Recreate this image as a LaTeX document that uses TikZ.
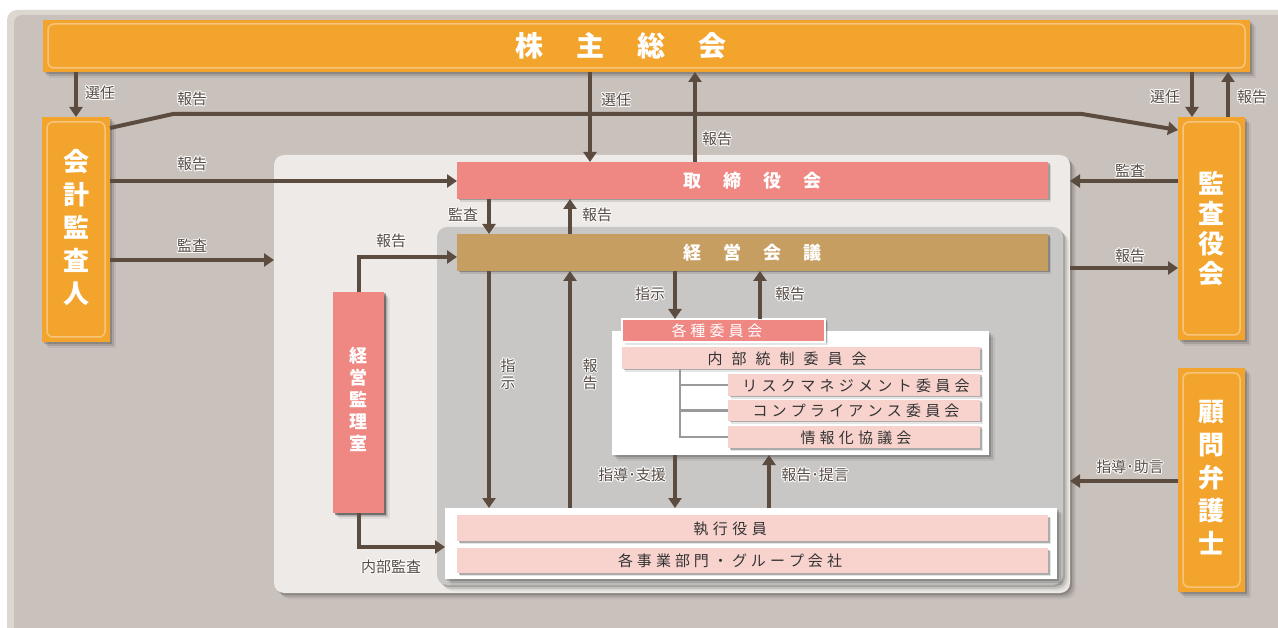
\documentclass[tikz,border=0pt]{standalone}
\usepackage{fontspec}
\setmainfont{Noto Sans CJK JP}
\usetikzlibrary{arrows.meta,shadows}
\definecolor{bgout}{HTML}{DDD7D2}
\definecolor{bgin}{HTML}{C9C1BB}
\definecolor{orng}{HTML}{F3A42D}
\definecolor{orngl}{HTML}{F8C57C}
\definecolor{lightp}{HTML}{EDEAE7}
\definecolor{grayp}{HTML}{C8C7C5}
\definecolor{salmon}{HTML}{EF8783}
\definecolor{tanc}{HTML}{C79E62}
\definecolor{pinkl}{HTML}{F8D3CE}
\definecolor{arrowc}{HTML}{5C4B3F}
\definecolor{lblc}{HTML}{574C45}
\definecolor{txtd}{HTML}{333333}
\definecolor{treec}{HTML}{9A9A9A}
\makeatletter
\newcommand\gapped[2]{\def\gp@gap{#1}\def\gp@first{1}\@tfor\gp@c:=#2\do{\ifnum\gp@first=1 \def\gp@first{0}\else\hspace{\gp@gap}\fi\gp@c}}
\makeatother
\newcommand\hl[1]{{\setbox0\hbox{#1}%
\rlap{\color{white}\kern1pt\copy0}%
\rlap{\color{white}\kern-1pt\copy0}%
\rlap{\color{white}\raise1pt\copy0}%
\rlap{\color{white}\lower1pt\copy0}%
\rlap{\color{white}\kern.7pt\raise.7pt\copy0}%
\rlap{\color{white}\kern-.7pt\raise.7pt\copy0}%
\rlap{\color{white}\kern.7pt\lower.7pt\copy0}%
\rlap{\color{white}\kern-.7pt\lower.7pt\copy0}%
\box0}}
\tikzset{
  softshadow/.style={drop shadow={shadow xshift=2pt,shadow yshift=-2pt,opacity=.16,fill=black},
                     drop shadow={shadow xshift=4pt,shadow yshift=-4pt,opacity=.11,fill=black},
                     drop shadow={shadow xshift=6pt,shadow yshift=-6pt,opacity=.06,fill=black}},
  smallshadow/.style={drop shadow={shadow xshift=1.5pt,shadow yshift=-1.5pt,opacity=.25,fill=black},
                      drop shadow={shadow xshift=3pt,shadow yshift=-3pt,opacity=.1,fill=black}},
  orbox/.style={fill=orng, inner sep=0pt, outer sep=0pt, softshadow, text=white, align=center},
  orin/.style={draw=orngl, line width=1.5pt, rounded corners=6pt},
  bar/.style={inner sep=0pt, outer sep=0pt, smallshadow},
  arr/.style={draw=arrowc, line width=4pt, -{Triangle[length=10pt,width=13pt]}},
  tree/.style={draw=treec, line width=2.5pt},
  lbl/.style={text=lblc, font=\fontsize{15}{17}\selectfont, inner sep=0pt},
  vlbl/.style={text=lblc, font=\fontsize{15}{17}\selectfont, inner sep=0pt, align=center},
  cmt/.style={text=txtd, font=\fontsize{15}{17}\selectfont, inner sep=0pt},
  htitle/.style={text=white, font=\bfseries\fontsize{18}{20}\selectfont, inner sep=0pt},
}
\begin{document}
\begin{tikzpicture}[x=1pt,y=-1pt]
\useasboundingbox (0,0) rectangle (1278,628);
\fill[white] (0,0) rectangle (1278,628);
\fill[bgout, rounded corners=10pt] (7,10) rectangle (1300,650);
\fill[bgin, rounded corners=8pt] (14,15) rectangle (1300,650);

% panels
\node[fill=lightp, rounded corners=10pt, minimum width=796pt, minimum height=438pt, inner sep=0pt, outer sep=0pt, softshadow] (lp) at (672,374) {};
\node[fill=grayp, rounded corners=10pt, minimum width=626pt, minimum height=358pt, inner sep=0pt, outer sep=0pt, softshadow] (gp) at (750,406) {};

% shareholders meeting
\node[orbox, minimum width=1207pt, minimum height=52pt] (kabu) at (646.5,46) {};
\draw[orin] ([xshift=5pt,yshift=-4pt]kabu.north west) rectangle ([xshift=-5pt,yshift=4pt]kabu.south east);
\node[text=white, font=\bfseries\fontsize{28}{30}\selectfont, inner sep=0pt] (kabut) at (621,46) {\gapped{33pt}{株主総会}};

% accounting auditor
\node[orbox, minimum width=68pt, minimum height=225pt] (kk) at (76,229.5) {};
\draw[orin] ([xshift=5pt,yshift=-5pt]kk.north west) rectangle ([xshift=-5pt,yshift=5pt]kk.south east);
\node[text=white, font=\bfseries\fontsize{26}{33}\selectfont, align=center, inner sep=0pt] (kkt) at (76,228) {会\\計\\監\\査\\人};

% audit board
\node[orbox, minimum width=67pt, minimum height=223pt] (kansa) at (1211.5,228.5) {};
\draw[orin] ([xshift=5pt,yshift=-5pt]kansa.north west) rectangle ([xshift=-5pt,yshift=5pt]kansa.south east);
\node[text=white, font=\bfseries\fontsize{26}{30}\selectfont, align=center, inner sep=0pt] (kansat) at (1211.5,229) {監\\査\\役\\会};

% legal advisor
\node[orbox, minimum width=67pt, minimum height=224pt] (komon) at (1211.5,480) {};
\draw[orin] ([xshift=5pt,yshift=-5pt]komon.north west) rectangle ([xshift=-5pt,yshift=5pt]komon.south east);
\node[text=white, font=\bfseries\fontsize{26}{33}\selectfont, align=center, inner sep=0pt] (komont) at (1211.5,478) {顧\\問\\弁\\護\\士};

% board of directors / management meeting
\node[bar, fill=salmon, minimum width=591pt, minimum height=37pt] (tori) at (752.5,180.5) {};
\node[htitle] (torit) at (752.5,181) {\gapped{22pt}{取締役会}};
\node[bar, fill=tanc, minimum width=591pt, minimum height=37pt] (keiei) at (752.5,252.5) {};
\node[htitle] (keieit) at (752.5,253) {\gapped{22pt}{経営会議}};

% management audit office
\node[bar, fill=salmon, minimum width=51pt, minimum height=221pt, softshadow] (kanri) at (358.5,402.5) {};
\node[text=white, font=\bfseries\fontsize{18}{22}\selectfont, align=center, inner sep=0pt] (kanrit) at (358.5,399) {経\\営\\監\\理\\室};

% committees
\node[fill=white, minimum width=377pt, minimum height=124pt, inner sep=0pt, outer sep=0pt, softshadow] (cmtbox) at (800.5,393) {};
\node[bar, fill=salmon, draw=white, line width=1.2pt, minimum width=203pt, minimum height=23pt] (kakushu) at (723.5,330.5) {};
\node[text=white, font=\fontsize{15}{17}\selectfont, inner sep=0pt] (kakushut) at (717,331) {\gapped{4pt}{各種委員会}};
\node[bar, fill=pinkl, minimum width=358pt, minimum height=22pt] (naibu) at (801,358) {};
\node[cmt] (naibut) at (787,358.5) {\gapped{9pt}{内部統制委員会}};
\node[bar, fill=pinkl, minimum width=252pt, minimum height=22pt] (risk) at (854,385) {};
\node[cmt] (riskt) at (856,385.5) {\gapped{4.3pt}{リスクマネジメント委員会}};
\node[bar, fill=pinkl, minimum width=252pt, minimum height=21pt] (comp) at (854,410.5) {};
\node[cmt] (compt) at (856,411) {\gapped{4.2pt}{コンプライアンス委員会}};
\node[bar, fill=pinkl, minimum width=252pt, minimum height=22pt] (joho) at (854,437) {};
\node[cmt] (johot) at (856,437.5) {\gapped{4.2pt}{情報化協議会}};
\draw[tree] (naibu.south -| 680,0) |- (joho.west);
\draw[tree] (680,0 |- risk.west) -- (risk.west);
\draw[tree] (680,0 |- comp.west) -- (comp.west);

% executives
\node[fill=white, minimum width=612pt, minimum height=71pt, inner sep=0pt, outer sep=0pt, softshadow] (execbox) at (751,543.5) {};
\node[bar, fill=pinkl, minimum width=591pt, minimum height=26pt] (shikko) at (752.5,528) {};
\node[cmt] (shikkot) at (730,528.5) {\gapped{4.5pt}{執行役員}};
\node[bar, fill=pinkl, minimum width=591pt, minimum height=25pt] (jigyo) at (752.5,560.5) {};
\node[cmt] (jigyot) at (730,561) {\gapped{4pt}{各事業部門・グループ会社}};

% arrows
\draw[arr] (kabu.south -| kk.north) -- (kk.north);
\draw[arr] (kk.east |- 0,128) -- (173,114) -- (1082,114) -- (kansa.west |- 0,130);
\draw[arr] (kk.east |- 0,181) -- (tori.west |- 0,181);
\draw[arr] (kk.east |- 0,260) -- (lp.west |- 0,260);
\draw[arr] (kabu.south -| 590,0) -- (tori.north -| 590,0);
\draw[arr] (tori.north -| 695,0) -- (kabu.south -| 695,0);
\draw[arr] (kabu.south -| 1192,0) -- (kansa.north -| 1192,0);
\draw[arr] (kansa.north -| 1228,0) -- (kabu.south -| 1228,0);
\draw[arr] (kansa.west |- 0,181) -- (lp.east |- 0,181);
\draw[arr] (lp.east |- 0,268) -- (kansa.west |- 0,268);
\draw[arr] (komon.west |- 0,481) -- (lp.east |- 0,481);
\draw[arr] (tori.south -| 489,0) -- (keiei.north -| 489,0);
\draw[arr] (keiei.north -| 570,0) -- (tori.south -| 570,0);
\draw[arr] (kanri.north) |- (keiei.west |- 0,257);
\draw[arr] (kanri.south) |- (execbox.west |- 0,547);
\draw[arr] (keiei.south -| 489,0) -- (execbox.north -| 489,0);
\draw[arr] (execbox.north -| 570,0) -- (keiei.south -| 570,0);
\draw[arr] (keiei.south -| 675,0) -- (kakushu.north -| 675,0);
\draw[arr] (kakushu.north -| 760,0) -- (keiei.south -| 760,0);
\draw[arr] (cmtbox.south -| 675,0) -- (execbox.north -| 675,0);
\draw[arr] (execbox.north -| 769,0) -- (cmtbox.south -| 769,0);

% labels
\node[lbl] (l1) at (100,93) {\hl{選任}};
\node[lbl] (l2) at (192,99) {\hl{報告}};
\node[lbl] (l3) at (192,164) {\hl{報告}};
\node[lbl] (l4) at (192,246) {\hl{監査}};
\node[lbl] (l5) at (616,100) {\hl{選任}};
\node[lbl] (l6) at (717,139) {\hl{報告}};
\node[lbl] (l7) at (1165,97) {\hl{選任}};
\node[lbl] (l8) at (1252,97) {\hl{報告}};
\node[lbl] (l9) at (1130,171) {\hl{監査}};
\node[lbl] (l10) at (1130,256) {\hl{報告}};
\node[lbl] (l11) at (1130,467) {\hl{指導･助言}};
\node[lbl] (l12) at (463,215) {\hl{監査}};
\node[lbl] (l13) at (597,215) {\hl{報告}};
\node[lbl] (l14) at (391,241) {\hl{報告}};
\node[lbl] (l15) at (391,567) {\hl{内部監査}};
\node[vlbl] (l16) at (508,374) {\hl{指}\\\hl{示}};
\node[vlbl] (l17) at (590,374) {\hl{報}\\\hl{告}};
\node[lbl] (l18) at (650,294) {\hl{指示}};
\node[lbl] (l19) at (790,294) {\hl{報告}};
\node[lbl] (l20) at (632,475) {\hl{指導･支援}};
\node[lbl] (l21) at (815,475) {\hl{報告･提言}};
\end{tikzpicture}
\end{document}
